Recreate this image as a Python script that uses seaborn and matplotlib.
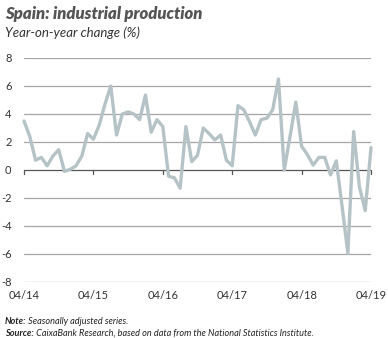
import matplotlib
matplotlib.use("Agg")
import matplotlib.pyplot as plt
import seaborn as sns
import pandas as pd

values = [3.5, 2.4, 0.7, 0.9, 0.3, 1.0, 1.45, -0.1, 0.05, 0.3, 1.0, 2.6,
          2.2, 3.2, 4.7, 6.0, 2.5, 4.0, 4.15, 4.0, 3.6, 5.35, 2.7, 3.6,
          3.1, -0.45, -0.55, -1.3, 3.1, 0.6, 1.05, 3.0, 2.6, 2.15, 2.5, 0.7,
          0.3, 4.6, 4.3, 3.45, 2.5, 3.6, 3.7, 4.3, 6.5, 0.0, 2.4, 4.85,
          1.7, 1.1, 0.35, 0.9, 0.9, -0.35, 0.65, -2.6, -5.95, 2.75, -1.2, -2.9, 1.6]
months = pd.period_range("2014-04", periods=len(values), freq="M").strftime("%m/%y").tolist()
tick_labels = ["04/14", "04/15", "04/16", "04/17", "04/18", "04/19"]
y_ticks = [-8, -6, -4, -2, 0, 2, 4, 6, 8]

title = "Spain: industrial production"
subtitle = "Year-on-year change (%)"

df = pd.DataFrame({"month": months, "idx": range(len(values)), "value": values})

sns.set_style("white")
plt.rcParams["font.family"] = ["Lato", "DejaVu Sans"]

fig = plt.figure(figsize=(3.88, 3.38), dpi=100)
ax = fig.add_axes([24 / 388, 1 - 282 / 338, (371 - 24) / 388, (282 - 58) / 338])

for y in y_ticks:
    if y != 0:
        ax.axhline(y, color="#a6a6a6", lw=0.9, zorder=1)
ax.axhline(0, color="#555555", lw=0.9, zorder=1)

sns.lineplot(data=df, x="idx", y="value", ax=ax, color="#b5c3c7", lw=2.4,
             zorder=3, clip_on=False)

ax.set_xlim(0, len(values) - 1)
ax.set_ylim(-8, 8)
for s in ax.spines.values():
    s.set_visible(False)
ax.set_yticks(y_ticks)
ax.set_yticklabels([str(t) for t in y_ticks], fontsize=8, color="#333333")
ax.tick_params(axis="y", length=0, pad=9)
ax.set_xticks(range(0, len(values), 12))
ax.set_xticklabels(tick_labels, fontsize=8, color="#333333")
ax.tick_params(axis="x", length=0, pad=6)
for i in range(0, len(values), 12):
    ax.plot([i, i], [0, -0.25], color="#555555", lw=0.9, zorder=2, clip_on=False)
ax.set_xlabel("")
ax.set_ylabel("")

fig.text(5 / 388, 1 - 14 / 338, title, fontsize=12, fontweight="heavy", style="italic",
         color="#555555", va="center")
fig.text(5 / 388, 1 - 33 / 338, subtitle, fontsize=9.5, style="italic",
         color="#333333", va="center")

n = fig.text(5 / 388, 1 - 322 / 338, "Note:", fontsize=6.6, fontweight="bold", style="italic",
             color="#222222", va="center")
ax.annotate(" Seasonally adjusted series.", xy=(1, 0.5), xycoords=n, fontsize=6.6,
            style="italic", color="#222222", va="center", ha="left")
s = fig.text(5 / 388, 1 - 333 / 338, "Source:", fontsize=6.6, fontweight="bold", style="italic",
             color="#222222", va="center")
ax.annotate(" CaixaBank Research, based on data from the National Statistics Institute.",
            xy=(1, 0.5), xycoords=s, fontsize=6.6, style="italic", color="#222222",
            va="center", ha="left")

fig.savefig("out.png", dpi=100)
